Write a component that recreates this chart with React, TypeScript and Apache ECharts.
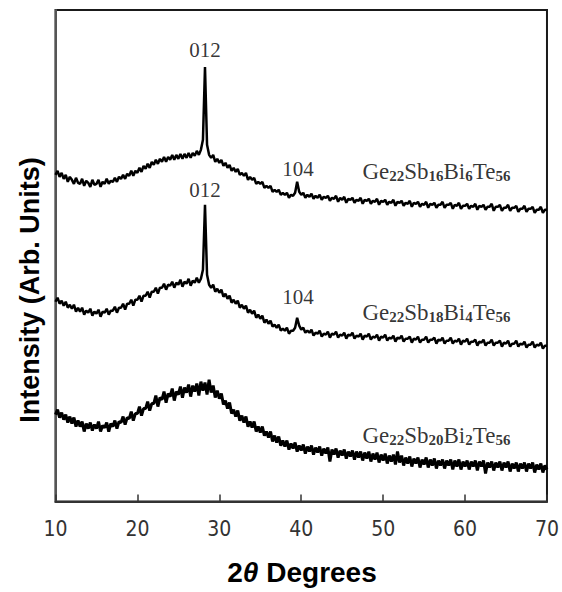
import React, { useEffect, useRef } from "react";
import * as echarts from "echarts";

// 2θ grid: the scans are sampled every 0.25° from 10° to 70°
const twoThetaStart = 10;
const twoThetaStep = 0.25;

// Intensities (arbitrary units), one value per 0.25° step
const ge22Sb16Bi6Te56 = [
  327, 331, 325, 329, 323, 327, 320, 325, 322, 318, 324, 319, 318, 323, 316, 321,
  319, 315, 322, 317, 318, 322, 315, 320, 318, 323, 318, 321, 320, 324, 320, 325,
  323, 327, 323, 328, 326, 331, 326, 331, 329, 334, 330, 336, 333, 338, 334, 340,
  337, 342, 338, 343, 340, 345, 340, 345, 342, 347, 342, 347, 343, 348, 343, 348,
  344, 349, 344, 349, 346, 351, 347, 352, 362, 435, 357, 347, 344, 347, 340, 343,
  339, 342, 336, 339, 334, 337, 331, 334, 330, 333, 327, 329, 326, 329, 322, 325,
  322, 324, 318, 320, 318, 320, 314, 316, 314, 316, 310, 312, 310, 312, 307, 309,
  307, 309, 304, 307, 306, 309, 320, 310, 307, 309, 304, 307, 305, 308, 303, 306,
  304, 307, 302, 305, 304, 306, 301, 304, 303, 306, 300, 304, 302, 305, 299, 303,
  302, 304, 299, 302, 301, 304, 298, 302, 301, 303, 298, 301, 300, 303, 297, 301,
  300, 302, 297, 300, 299, 302, 296, 300, 299, 301, 296, 299, 298, 301, 295, 299,
  298, 300, 295, 298, 297, 300, 294, 298, 297, 299, 294, 297, 297, 300, 294, 297,
  297, 299, 293, 297, 296, 299, 293, 296, 296, 298, 293, 296, 295, 298, 292, 296,
  295, 297, 292, 295, 295, 298, 291, 295, 295, 297, 291, 294, 294, 297, 291, 294,
  294, 296, 290, 293, 293, 296, 290, 293, 293, 295, 289, 292, 292, 295, 289, 292,
  292,
];

const ge22Sb18Bi4Te56 = [
  200, 204, 198, 201, 196, 200, 194, 197, 193, 197, 190, 194, 190, 194, 187, 191,
  189, 193, 186, 190, 188, 192, 185, 190, 189, 193, 187, 191, 191, 195, 189, 194,
  194, 198, 192, 198, 198, 202, 196, 202, 202, 206, 200, 206, 206, 210, 204, 210,
  210, 214, 208, 214, 214, 218, 212, 217, 216, 220, 214, 219, 217, 222, 215, 220,
  218, 223, 216, 221, 219, 224, 219, 223, 232, 297, 227, 217, 214, 217, 210, 213,
  209, 212, 205, 208, 203, 206, 199, 202, 198, 201, 194, 197, 193, 196, 189, 192,
  188, 191, 184, 187, 183, 186, 179, 182, 178, 181, 175, 177, 174, 177, 171, 173,
  171, 174, 168, 171, 171, 174, 184, 176, 172, 174, 169, 171, 169, 172, 166, 169,
  168, 171, 165, 168, 167, 170, 164, 168, 167, 170, 164, 167, 166, 169, 163, 167,
  166, 169, 163, 166, 165, 168, 162, 166, 165, 168, 162, 165, 164, 167, 161, 165,
  164, 167, 161, 164, 163, 166, 160, 164, 163, 166, 160, 163, 163, 165, 159, 163,
  162, 165, 159, 162, 162, 165, 159, 162, 162, 164, 158, 162, 161, 164, 158, 161,
  161, 164, 158, 161, 160, 163, 157, 161, 160, 163, 157, 160, 160, 162, 156, 160,
  159, 162, 156, 159, 159, 162, 156, 159, 159, 161, 155, 159, 158, 161, 155, 158,
  158, 161, 155, 158, 157, 160, 154, 157, 157, 160, 154, 157, 156, 159, 153, 156,
  156,
];

const ge22Sb20Bi2Te56 = [
  87, 92, 84, 89, 82, 87, 79, 85, 78, 84, 75, 81, 75, 80, 70, 78,
  73, 79, 71, 77, 73, 80, 70, 76, 74, 79, 70, 78, 75, 81, 73, 80,
  79, 85, 77, 84, 83, 90, 81, 88, 88, 95, 86, 93, 93, 100, 91, 98,
  98, 106, 95, 104, 102, 110, 99, 108, 105, 113, 101, 110, 107, 115, 104, 114,
  109, 117, 105, 116, 110, 118, 106, 120, 111, 119, 107, 122, 109, 116, 104, 111,
  103, 108, 97, 101, 93, 99, 88, 92, 85, 91, 81, 86, 79, 85, 75, 80,
  74, 80, 70, 75, 69, 75, 66, 70, 64, 70, 60, 66, 59, 65, 56, 61,
  55, 61, 52, 58, 53, 59, 50, 56, 51, 57, 48, 55, 50, 56, 47, 54,
  49, 55, 46, 53, 48, 54, 40, 52, 47, 53, 44, 51, 46, 52, 43, 50,
  45, 51, 42, 50, 44, 50, 41, 49, 43, 50, 40, 48, 42, 49, 39, 47,
  41, 48, 38, 46, 40, 47, 37, 50, 39, 46, 36, 44, 38, 45, 35, 43,
  38, 44, 34, 42, 37, 44, 34, 42, 36, 43, 33, 41, 36, 42, 33, 41,
  36, 42, 32, 41, 35, 42, 32, 40, 35, 41, 32, 40, 35, 41, 31, 40,
  35, 41, 28, 39, 34, 40, 31, 39, 34, 40, 31, 39, 34, 40, 30, 38,
  33, 39, 30, 38, 33, 39, 30, 38, 33, 39, 29, 37, 32, 38, 29, 36,
  32,
];

// Reflection labels (hkl) and where they sit, in data units
const hklLabels = ["012", "012", "104", "104"];
const hklTheta = [28.25, 28.25, 39.6, 39.6];
const hklIntensity = [452, 312, 333, 205];

// Sample names: element / subscript pairs
const sampleFormulas = [
  ["Ge", "22", "Sb", "16", "Bi", "6", "Te", "56"],
  ["Ge", "22", "Sb", "18", "Bi", "4", "Te", "56"],
  ["Ge", "22", "Sb", "20", "Bi", "2", "Te", "56"],
];
const sampleLabelTheta = [56.5, 56.5, 56.5];
const sampleLabelIntensity = [330, 189, 66];

const xTicks = { min: 10, max: 70, interval: 10 };

const SERIF = '"Liberation Serif", "Times New Roman", serif';
const SANS = '"Liberation Sans", Arial, sans-serif';

export default function App() {
  const ref = useRef<HTMLDivElement>(null);

  useEffect(() => {
    if (!ref.current) return;
    const chart = echarts.init(ref.current, null, { renderer: "svg" });
    const toPairs = (arr: number[]) =>
      arr.map((v, i) => [twoThetaStart + i * twoThetaStep, v]);

    const lineSeries = [ge22Sb16Bi6Te56, ge22Sb18Bi4Te56, ge22Sb20Bi2Te56].map(
      (arr, k) => ({
        type: "line",
        name: sampleFormulas[k].join(""),
        data: toPairs(arr),
        showSymbol: false,
        symbol: "none",
        silent: true,
        lineStyle: { color: "#000", width: k === 2 ? 3 : 2.5 },
        z: 3,
      })
    );

    const formulaRich = (parts: string[]) =>
      parts.map((p, i) => (i % 2 === 0 ? `{n|${p}}` : `{s|${p}}`)).join("");

    const annotationData = [
      ...hklLabels.map((t, i) => ({
        value: [hklTheta[i], hklIntensity[i]],
        name: `{h|${t}}`,
      })),
      ...sampleFormulas.map((parts, i) => ({
        value: [sampleLabelTheta[i], sampleLabelIntensity[i]],
        name: formulaRich(parts),
      })),
    ];

    chart.setOption({
      animation: false,
      backgroundColor: "#fff",
      grid: {
        left: 55.5,
        right: 14.5,
        top: 10,
        bottom: 90.5,
        show: true,
        borderColor: "#1a1a1a",
        borderWidth: 2,
        backgroundColor: "transparent",
      },
      xAxis: {
        type: "value",
        min: xTicks.min,
        max: xTicks.max,
        interval: xTicks.interval,
        axisLine: { show: true, lineStyle: { color: "#333", width: 2 } },
        axisTick: { show: true, inside: true, length: 7, lineStyle: { color: "#333", width: 1.5 } },
        axisLabel: {
          margin: 17,
          fontSize: 21,
          color: "#333",
          fontFamily: '"Liberation Sans Narrow", "DejaVu Sans Condensed", "Liberation Sans", sans-serif',
        },
        splitLine: { show: false },
      },
      yAxis: {
        type: "value",
        min: 0,
        max: 492,
        axisLine: { show: true, lineStyle: { color: "#555", width: 2 } },
        axisTick: { show: false },
        axisLabel: { show: false },
        splitLine: { show: false },
      },
      series: [
        ...lineSeries,
        {
          type: "scatter",
          name: "labels",
          symbolSize: 0,
          silent: true,
          z: 5,
          data: annotationData,
          label: {
            show: true,
            position: "inside",
            formatter: (p: any) => p.name,
            color: "#000",
            rich: {
              h: { fontFamily: SERIF, fontSize: 21, color: "#000" },
              n: {
                fontFamily: SERIF,
                fontSize: 23,
                color: "#000",
                lineHeight: 24,
                verticalAlign: "top",
              },
              s: {
                fontFamily: SERIF,
                fontSize: 15,
                fontWeight: "bold",
                color: "#000",
                lineHeight: 15,
                verticalAlign: "bottom",
                padding: [11, 0, 0, 0],
              },
            },
          },
        },
      ],
      graphic: [
        {
          type: "text",
          x: 302,
          y: 572,
          style: {
            text: "{a|2}{b|θ}{a| Degrees}",
            align: "center",
            verticalAlign: "middle",
            rich: {
              a: { fontFamily: SANS, fontSize: 28, fontWeight: "bold", fill: "#000" },
              b: {
                fontFamily: SANS,
                fontSize: 28,
                fontWeight: "bold",
                fontStyle: "italic",
                fill: "#000",
              },
            },
          },
        },
        {
          type: "text",
          x: 30,
          y: 290,
          rotation: Math.PI / 2,
          style: {
            text: "Intensity (Arb. Units)",
            font: `bold 27px ${SANS}`,
            align: "center",
            verticalAlign: "middle",
            fill: "#000",
          },
        },
      ],
    });

    return () => chart.dispose();
  }, []);

  return (
    <div
      ref={ref}
      style={{ position: "absolute", left: 0, top: 0, width: 562, height: 592, background: "#fff" }}
    />
  );
}
